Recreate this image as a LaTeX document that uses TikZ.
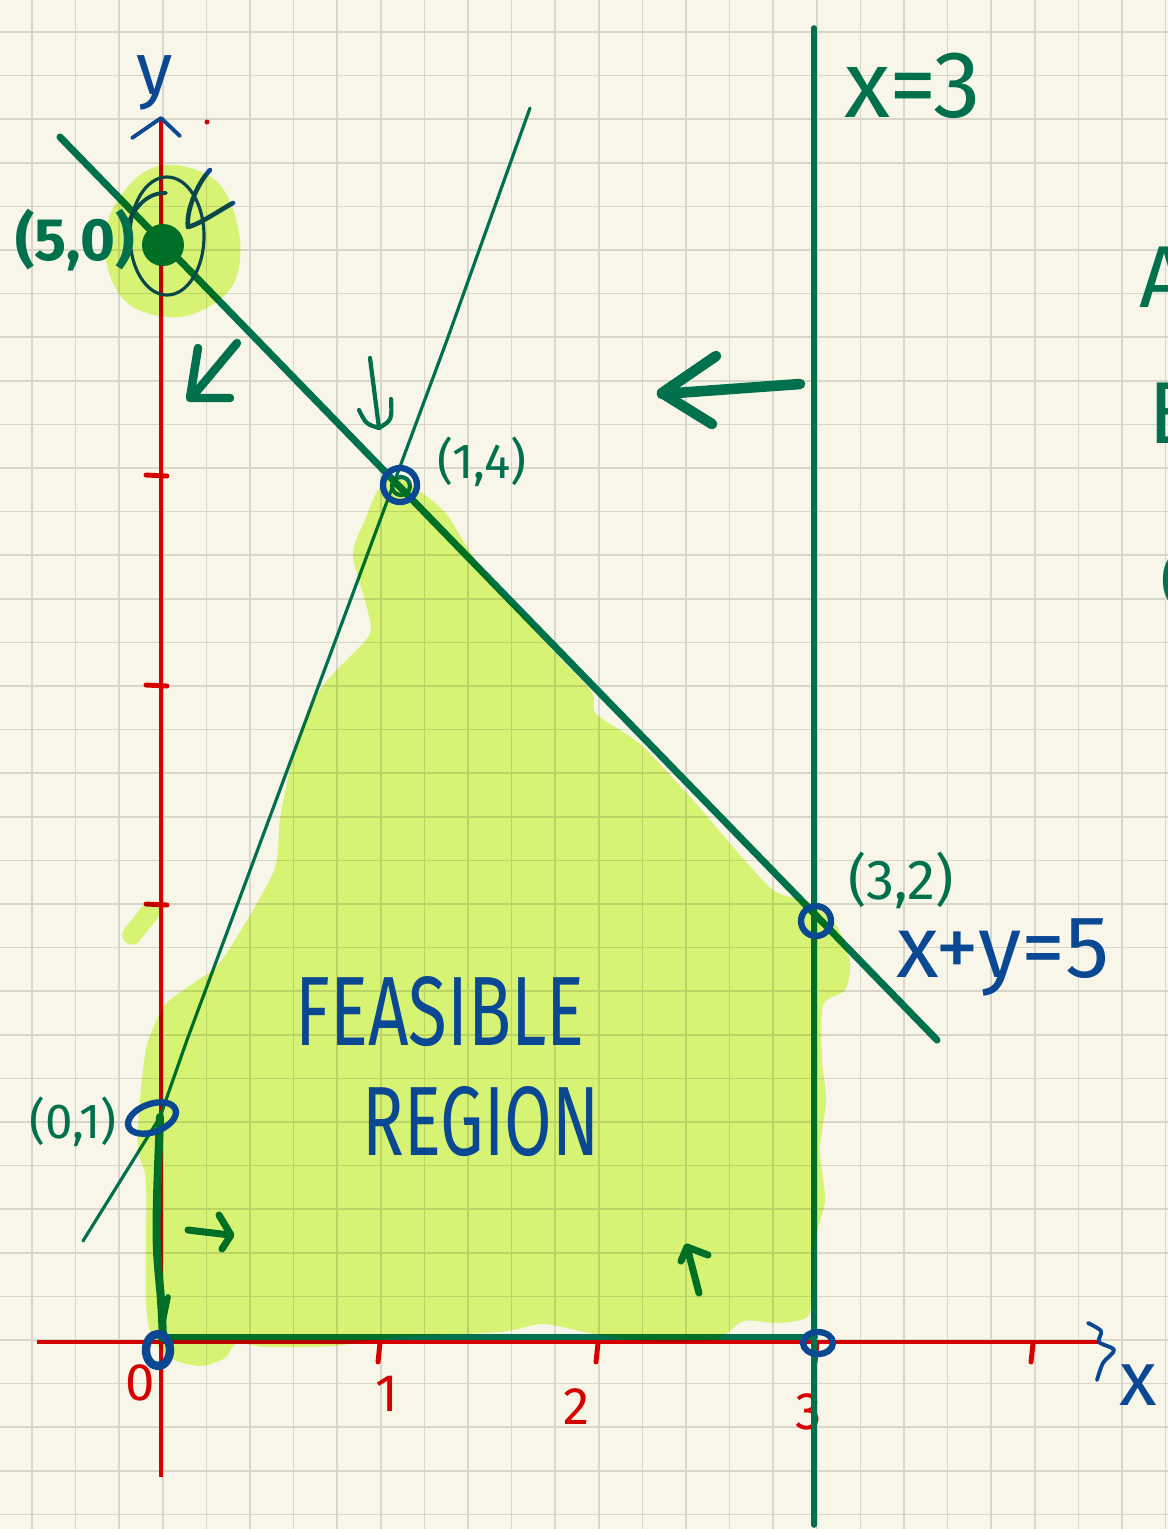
\documentclass[tikz,border=0pt]{standalone}
\usepackage{fontspec}
\setmainfont{Fira Sans}
\definecolor{bgc}{HTML}{F8F5E9}
\definecolor{gridc}{HTML}{D8D5CA}
\definecolor{axred}{HTML}{D50000}
\definecolor{pteal}{HTML}{00704D}
\definecolor{pblue}{HTML}{0B4894}
\definecolor{hlc}{HTML}{DEFD80}
\newcommand\hsz[1]{\fontsize{#1}{#1}\selectfont}
\tikzset{
  gridline/.style={gridc, line width=0.45pt},
  axisline/.style={axred, line width=1.1pt},
  tickmark/.style={axred, line width=1.4pt, line cap=round},
  pen/.style={pteal, line cap=round, line join=round},
  bpen/.style={pblue, line cap=round, line join=round},
  hilite/.style={fill=hlc, blend mode=multiply},
  lab/.style={inner sep=0pt, outer sep=0pt},
}
\begin{document}
\begin{tikzpicture}[x=0.01cm,y=-0.01cm]
\useasboundingbox (0,0) rectangle (1168,1529);
\fill[bgc] (0,0) rectangle (1168,1529);
\foreach \i in {0,...,26} \draw[gridline] ({32+43.6*\i},0) -- ({32+43.6*\i},1529);
\foreach \i in {0,...,34} \draw[gridline] (0,{32+43.6*\i}) -- (1168,{32+43.6*\i});

% axes
\coordinate (yTop) at (161,118);
\coordinate (yBot) at (161,1477);
\coordinate (xL) at (37,1342);
\coordinate (xR) at (1100,1342);
\draw[axisline] (yBot) -- (yTop);
\draw[axisline] (xL) -- (xR);
\foreach \x in {380,598,817,1033} \draw[tickmark] (\x,1343) -- (\x-2,1362);
\foreach \y in {475,685,904} \draw[tickmark] (146,\y) -- (167,\y+1);
\fill[axred] (207,122) circle (2.5);
\node[lab, axred, font=\hsz{15}] (t0) at (140,1383) {0};
\node[lab, axred, font=\hsz{15}] (t1) at (387,1394) {1};
\node[lab, axred, font=\hsz{15}] (t2) at (577,1407) {2};
\node[lab, axred, font=\hsz{15}] (t3) at (809,1412) {3};

% lines
\coordinate (A1) at (60,137);
\coordinate (A2) at (937,1040);
\draw[pen, line width=2pt] (A1) -- (A2);
\coordinate (B1) at (530,108);
\coordinate (B2) at (447,340);
\coordinate (B3) at (398,472);
\coordinate (B4) at (187,1040);
\coordinate (B5) at (160,1117);
\coordinate (B6) at (83,1241);
\draw[pen, line width=0.9pt] (B1) -- (B2) -- (B3) -- (B4) -- (B5) -- (B6);
\coordinate (C1) at (814,28);
\coordinate (C2) at (814,1525);
\draw[pen, line width=1.6pt] (C1) -- (C2);
\coordinate (D1) at (160,1337);
\coordinate (D2) at (815,1337);
\draw[pen, line width=1.7pt] (D1) -- (D2);
\draw[pen, line width=2.3pt] plot[smooth, tension=0.6] coordinates {(160,1117) (157,1200) (157,1250) (161,1300) (163,1338)};
\draw[pen, line width=1.6pt] (168,1297) -- (163,1322);

% marks under the highlighter
\fill[pteal] (163,245) circle (21);
\draw[bpen, line width=0.9pt] (167,236) ellipse [x radius=0.37cm, y radius=0.59cm];
\draw[bpen, line width=1.1pt] (125,232) .. controls (133,205) and (150,192) .. (166,193);
\draw[bpen, line width=1.3pt] (210,170) .. controls (196,185) and (186,212) .. (188,227) .. controls (200,224) and (220,210) .. (233,203);
\draw[pen, line width=1.2pt] (401,486) circle (9);
\draw[pen, line width=2pt] (188,1230) -- (230,1235);
\draw[pen, line width=2pt] (219,1215) -- (231,1235) -- (222,1249);
\draw[pen, line width=2pt] (699,1293) -- (687,1247);
\draw[pen, line width=2pt] (681,1261) -- (687,1247) -- (708,1255);

% highlighter
\fill[hilite] plot[smooth cycle, tension=0.45] coordinates {
 (378,490) (395,477) (425,495) (447,515) (472,555) (500,592) (520,612) (557,655)
 (592,692) (596,714) (640,744) (693,800) (727,840) (773,890) (808,902) (836,925)
 (850,962) (845,990) (823,1005) (822,1060) (826,1100) (820,1150) (825,1200)
 (815,1240) (812,1300) (806,1318) (777,1323) (743,1321) (715,1340) (650,1342)
 (590,1333) (543,1324) (500,1332) (400,1337) (333,1346) (267,1347) (237,1343)
 (225,1358) (200,1366) (170,1358) (152,1336) (146,1300) (146,1183) (138,1150)
 (140,1100) (147,1045) (165,1005) (195,982) (222,960) (273,873) (280,819)
 (293,759) (320,690) (368,637) (368,612) (353,555) (365,520)};
\fill[hilite] plot[smooth cycle, tension=0.6] coordinates {
 (175,165) (215,180) (235,215) (240,260) (225,295) (180,317) (130,305) (107,265) (110,215) (140,175)};
\draw[hlc, blend mode=multiply, line width=5.5pt, line cap=round] (150,912) -- (132,935);

% points
\draw[bpen, line width=1.8pt] (400,485) circle (17);
\draw[bpen, line width=1.8pt] (816,921) circle (15);
\draw[bpen, line width=1.8pt] (152,1118) ellipse [x radius=0.25cm, y radius=0.14cm, rotate=20];
\draw[bpen, line width=2.4pt] (158,1350) ellipse [x radius=0.12cm, y radius=0.16cm];
\draw[bpen, line width=1.8pt] (818,1343) ellipse [x radius=0.15cm, y radius=0.11cm];

% axis heads and labels
\draw[bpen, line width=1.1pt] (132,138) -- (yTop) -- (180,136);
\draw[bpen, line width=1.1pt] plot[smooth, tension=0.5] coordinates {(1088,1323) (1101,1331) (1099,1342) (1114,1350) (1103,1363) (1097,1380)};
\node[lab, pblue, font=\hsz{21}] (ylab) at (155,83) {y};
\node[lab, pblue, font=\hsz{22}] (xlab) at (1138,1385) {x};

% arrows outside the highlighter
\draw[pen, line width=2.4pt] (237,343) -- (192,397);
\draw[pen, line width=2.4pt] (198,348) -- (190,398) -- (230,398);
\draw[pen, line width=1.2pt] (370,358) -- (379,428);
\draw[pen, line width=1.2pt] (359,410) .. controls (366,424) .. (379,428) .. controls (392,420) .. (391,399);
\draw[pen, line width=3pt] (800,384) -- (662,394);
\draw[pen, line width=3pt] (716,356) -- (662,393) -- (712,424);

% labels
\node[lab, pteal, font=\hsz{27}] (lx3) at (913,86) {x=3};
\node[lab, pteal, font=\bfseries\hsz{17}] (l50) at (75,240) {(5,0)};
\node[lab, pteal, font=\hsz{14}] (l14) at (482,462) {(1,4)};
\node[lab, pteal, font=\hsz{16}] (l32) at (901,880) {(3,2)};
\node[lab, pteal, font=\hsz{14}] (l01) at (73,1122) {(0,1)};
\node[lab, pblue, font=\hsz{25}] (lxy) at (1003,957) {x+y=5};
\node[lab, pblue, font=\hsz{28}] (feas) at (440,1012) {\scalebox{0.72}[1]{FEASIBLE}};
\node[lab, pblue, font=\hsz{28}] (regn) at (481,1122) {\scalebox{0.7}[1]{REGION}};
\node[lab, pteal, font=\hsz{25}, anchor=west] (rA) at (1139,277) {A};
\node[lab, pteal, font=\hsz{25}, anchor=west] (rB) at (1148,413) {B};
\node[lab, pteal, font=\hsz{25}, anchor=west] (rC) at (1158,580) {C};
\end{tikzpicture}
\end{document}
